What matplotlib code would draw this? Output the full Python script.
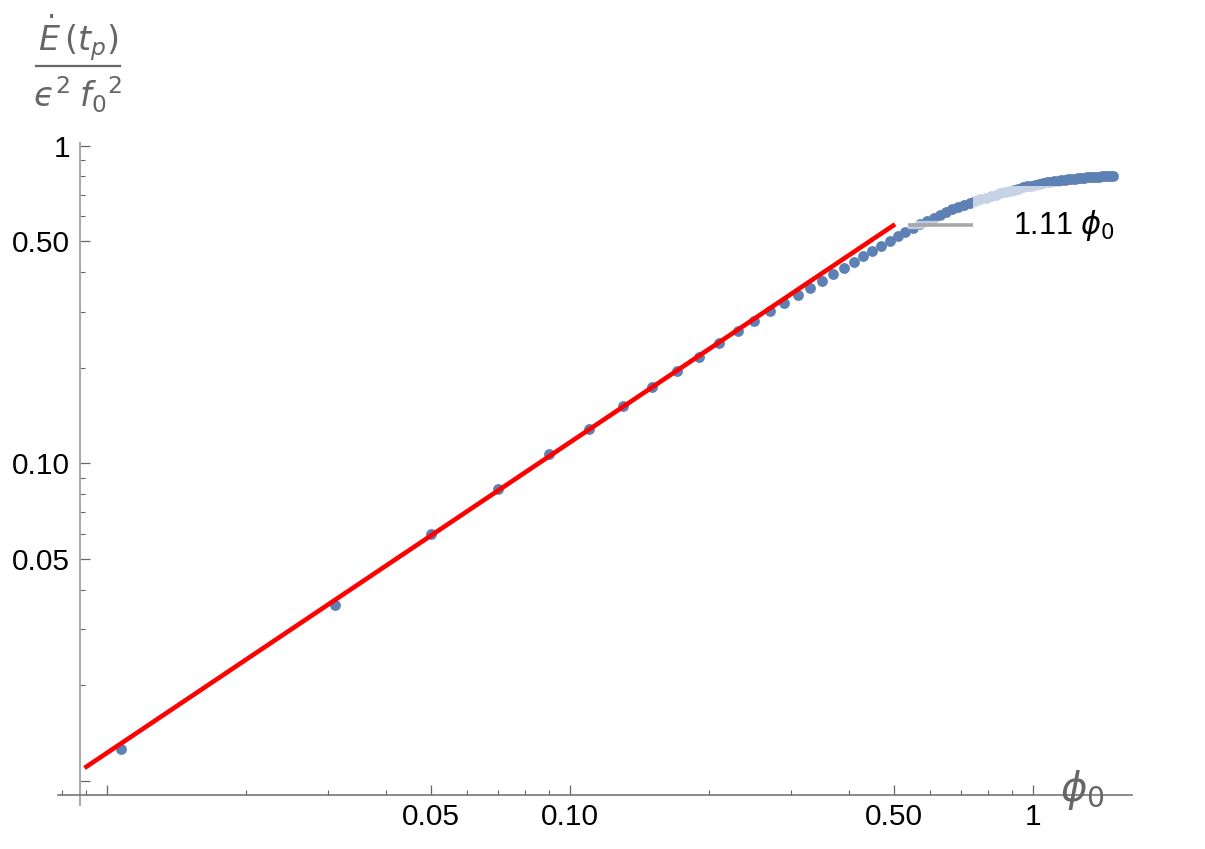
import matplotlib
matplotlib.use("Agg")
import matplotlib.pyplot as plt
from matplotlib.ticker import FixedLocator, FixedFormatter, NullFormatter
from matplotlib.patches import Rectangle
from matplotlib.lines import Line2D
import matplotlib.patheffects as pe

plt.rcParams['font.family'] = ['Liberation Sans', 'DejaVu Sans']
plt.rcParams['mathtext.fontset'] = 'dejavusans'

# ---- data ----
phi0 = [0.0107, 0.031, 0.05, 0.07, 0.09, 0.11, 0.13, 0.15, 0.17, 0.19, 0.21, 0.23,
        0.25, 0.27, 0.29, 0.31, 0.33, 0.35, 0.37, 0.39, 0.41, 0.43, 0.45, 0.47,
        0.49, 0.51, 0.53, 0.55, 0.57, 0.59, 0.61, 0.63, 0.65, 0.67, 0.69, 0.71,
        0.73, 0.75, 0.77, 0.79, 0.81, 0.83, 0.85, 0.87, 0.89, 0.91, 0.93, 0.95,
        0.97, 0.99, 1.01, 1.03, 1.05, 1.07, 1.09, 1.11, 1.13, 1.15, 1.17, 1.19,
        1.21, 1.23, 1.25, 1.27, 1.29, 1.31, 1.33, 1.35, 1.37, 1.39, 1.41, 1.43,
        1.45, 1.47, 1.49]
edot = [0.01258, 0.03579, 0.05976, 0.08298, 0.10673, 0.12823, 0.15182, 0.17420,
        0.19563, 0.21653, 0.23966, 0.26152, 0.28119, 0.30177, 0.31903, 0.33889,
        0.357, 0.376, 0.395, 0.413, 0.431, 0.449, 0.467, 0.485, 0.502, 0.519,
        0.535, 0.550, 0.565, 0.580, 0.594, 0.607, 0.619, 0.630, 0.641, 0.651,
        0.660, 0.669, 0.678, 0.686, 0.694, 0.701, 0.708, 0.715, 0.721, 0.727,
        0.733, 0.739, 0.744, 0.749, 0.754, 0.758, 0.762, 0.766, 0.770, 0.773,
        0.776, 0.779, 0.782, 0.784, 0.786, 0.788, 0.790, 0.792, 0.793, 0.795,
        0.796, 0.797, 0.798, 0.799, 0.800, 0.800, 0.801, 0.801, 0.802]

fit_x = [0.00894, 0.5035]
fit_y = [0.01098, 0.5656]

callout_x = [0.537, 0.742]
callout_y = [0.563, 0.563]
callout_label = r'1.11 $\phi_0$'

major_ticks = [0.01, 0.05, 0.1, 0.5, 1.0]
major_labels = ['', '0.05', '0.10', '0.50', '1']
x_minor = [0.008, 0.009, 0.02, 0.03, 0.04, 0.06, 0.07, 0.08, 0.09,
           0.2, 0.3, 0.4, 0.6, 0.7, 0.8, 0.9]
y_minor = [0.02, 0.03, 0.04, 0.06, 0.07, 0.08, 0.09,
           0.2, 0.3, 0.4, 0.6, 0.7, 0.8, 0.9]

# ---- figure ----
W, H = 1205, 849
fig = plt.figure(figsize=(W / 100, H / 100), dpi=100)
ax = fig.add_axes([58 / W, 1 - 805 / H, (1132 - 58) / W, (805 - 143) / H])
ax.set_xscale('log')
ax.set_yscale('log')
ax.set_xlim(0.007836, 1.636)
ax.set_ylim(0.008395, 1.0198)

blue = '#5E81B5'
ax.plot(phi0, edot, 'o', ms=7.8, color=blue, mec='none', zorder=2, clip_on=False)
ax.plot(fit_x, fit_y, color='#ff0000', lw=3.3, zorder=4, solid_capstyle='butt')

# callout label background and leader
ax.add_patch(Rectangle((0.742, 0.418), 1.2, 0.7467 - 0.418, transform=ax.transData,
                       facecolor='white', edgecolor='none', alpha=0.65, zorder=3,
                       clip_on=False))
ax.plot(callout_x, callout_y, color='#a8a8a8', lw=2.6, zorder=5, solid_capstyle='butt',
        path_effects=[pe.Stroke(linewidth=6, foreground='white', alpha=0.6), pe.Normal()])
ax.text(0.905, 0.559, callout_label, fontsize=22, color='black', ha='left', va='center',
        zorder=6)

# axes styling
for s in ['top', 'right']:
    ax.spines[s].set_visible(False)
ax.spines['left'].set_position(('data', 0.008744))
ax.spines['bottom'].set_position(('data', 0.009029))
ax.spines['left'].set_color('#aaaaaa')
ax.spines['left'].set_linewidth(1.5)
ax.spines['bottom'].set_color('#777777')
ax.spines['bottom'].set_linewidth(1.2)

ax.xaxis.set_major_locator(FixedLocator(major_ticks))
ax.xaxis.set_major_formatter(FixedFormatter(major_labels))
ax.xaxis.set_minor_locator(FixedLocator(x_minor))
ax.xaxis.set_minor_formatter(NullFormatter())
ax.yaxis.set_major_locator(FixedLocator(major_ticks))
ax.yaxis.set_major_formatter(FixedFormatter(major_labels))
ax.yaxis.set_minor_locator(FixedLocator(y_minor))
ax.yaxis.set_minor_formatter(NullFormatter())

ax.tick_params(which='both', direction='in', color='#666666', labelcolor='black',
               labelsize=21.5)
ax.tick_params(which='major', length=7.5, width=0.9)
ax.tick_params(which='minor', length=3.8, width=0.8)
ax.tick_params(axis='x', which='major', pad=6)
ax.tick_params(axis='y', which='major', pad=7)

# axis labels
fig.text(1060 / W, 1 - 790 / H, r'$\phi_0$', fontsize=29, color='#666666',
         ha='left', va='center')
lab_col = '#666666'
fig.text(78 / W, 1 - 38 / H, r'$\dot{E}\,(t_p)$', fontsize=24, color=lab_col,
         ha='center', va='center')
fig.add_artist(Line2D([36 / W, 120 / W], [1 - 66 / H, 1 - 66 / H], color=lab_col,
                      lw=1.6, transform=fig.transFigure))
fig.text(78 / W, 1 - 95 / H, '$\u03f5^2\\;{f_0}^2$', fontsize=24, color=lab_col,
         ha='center', va='center')

fig.savefig('out.png', dpi=100)
